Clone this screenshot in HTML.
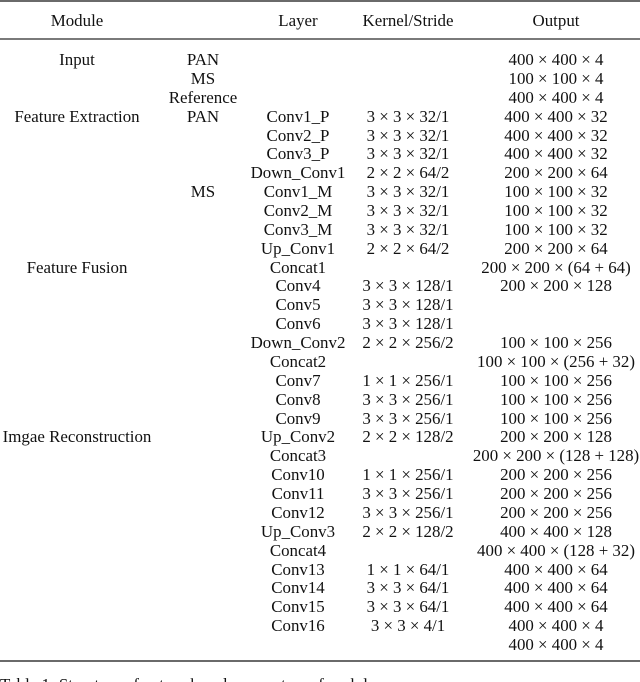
<!DOCTYPE html>
<html><head><meta charset="utf-8">
<style>
html,body{margin:0;padding:0;background:#fff;width:640px;height:682px;overflow:hidden;}
body{position:relative;font-family:"Liberation Serif",serif;font-size:16.9px;color:#111;}
.r{position:absolute;left:0;width:640px;height:19px;line-height:19px;}
.c{position:absolute;top:0;width:200px;text-align:center;white-space:nowrap;}
.c1{left:-23px}.c2{left:103px}.c3{left:198px}.c4{left:308px}.c5{left:456px}
.x{padding:0 4.2px;}
.rule{position:absolute;left:0;width:640px;background:#6a6a6a;}
</style></head><body>
<div class="rule" style="top:0px;height:2px"></div>
<div class="rule" style="top:38px;height:2px;background:#7a7a7a"></div>
<div class="rule" style="top:660px;height:2px"></div>

<div class="r" style="top:11px"><span class="c c1">Module</span><span class="c c3">Layer</span><span class="c c4">Kernel/Stride</span><span class="c c5">Output</span></div>

<div class="r" style="top:50.0px"><span class="c c1">Input</span><span class="c c2">PAN</span><span class="c c5">400<span class="x">×</span>400<span class="x">×</span>4</span></div>
<div class="r" style="top:68.9px"><span class="c c2">MS</span><span class="c c5">100<span class="x">×</span>100<span class="x">×</span>4</span></div>
<div class="r" style="top:87.7px"><span class="c c2">Reference</span><span class="c c5">400<span class="x">×</span>400<span class="x">×</span>4</span></div>
<div class="r" style="top:106.6px"><span class="c c1">Feature Extraction</span><span class="c c2">PAN</span><span class="c c3">Conv1_P</span><span class="c c4">3<span class="x">×</span>3<span class="x">×</span>32/1</span><span class="c c5">400<span class="x">×</span>400<span class="x">×</span>32</span></div>
<div class="r" style="top:125.5px"><span class="c c3">Conv2_P</span><span class="c c4">3<span class="x">×</span>3<span class="x">×</span>32/1</span><span class="c c5">400<span class="x">×</span>400<span class="x">×</span>32</span></div>
<div class="r" style="top:144.4px"><span class="c c3">Conv3_P</span><span class="c c4">3<span class="x">×</span>3<span class="x">×</span>32/1</span><span class="c c5">400<span class="x">×</span>400<span class="x">×</span>32</span></div>
<div class="r" style="top:163.2px"><span class="c c3">Down_Conv1</span><span class="c c4">2<span class="x">×</span>2<span class="x">×</span>64/2</span><span class="c c5">200<span class="x">×</span>200<span class="x">×</span>64</span></div>
<div class="r" style="top:182.1px"><span class="c c2">MS</span><span class="c c3">Conv1_M</span><span class="c c4">3<span class="x">×</span>3<span class="x">×</span>32/1</span><span class="c c5">100<span class="x">×</span>100<span class="x">×</span>32</span></div>
<div class="r" style="top:201.0px"><span class="c c3">Conv2_M</span><span class="c c4">3<span class="x">×</span>3<span class="x">×</span>32/1</span><span class="c c5">100<span class="x">×</span>100<span class="x">×</span>32</span></div>
<div class="r" style="top:219.8px"><span class="c c3">Conv3_M</span><span class="c c4">3<span class="x">×</span>3<span class="x">×</span>32/1</span><span class="c c5">100<span class="x">×</span>100<span class="x">×</span>32</span></div>
<div class="r" style="top:238.7px"><span class="c c3">Up_Conv1</span><span class="c c4">2<span class="x">×</span>2<span class="x">×</span>64/2</span><span class="c c5">200<span class="x">×</span>200<span class="x">×</span>64</span></div>
<div class="r" style="top:257.6px"><span class="c c1">Feature Fusion</span><span class="c c3">Concat1</span><span class="c c5">200<span class="x">×</span>200<span class="x">×</span>(64<span class="x">+</span>64)</span></div>
<div class="r" style="top:276.4px"><span class="c c3">Conv4</span><span class="c c4">3<span class="x">×</span>3<span class="x">×</span>128/1</span><span class="c c5">200<span class="x">×</span>200<span class="x">×</span>128</span></div>
<div class="r" style="top:295.3px"><span class="c c3">Conv5</span><span class="c c4">3<span class="x">×</span>3<span class="x">×</span>128/1</span></div>
<div class="r" style="top:314.2px"><span class="c c3">Conv6</span><span class="c c4">3<span class="x">×</span>3<span class="x">×</span>128/1</span></div>
<div class="r" style="top:333.1px"><span class="c c3">Down_Conv2</span><span class="c c4">2<span class="x">×</span>2<span class="x">×</span>256/2</span><span class="c c5">100<span class="x">×</span>100<span class="x">×</span>256</span></div>
<div class="r" style="top:351.9px"><span class="c c3">Concat2</span><span class="c c5">100<span class="x">×</span>100<span class="x">×</span>(256<span class="x">+</span>32)</span></div>
<div class="r" style="top:370.8px"><span class="c c3">Conv7</span><span class="c c4">1<span class="x">×</span>1<span class="x">×</span>256/1</span><span class="c c5">100<span class="x">×</span>100<span class="x">×</span>256</span></div>
<div class="r" style="top:389.7px"><span class="c c3">Conv8</span><span class="c c4">3<span class="x">×</span>3<span class="x">×</span>256/1</span><span class="c c5">100<span class="x">×</span>100<span class="x">×</span>256</span></div>
<div class="r" style="top:408.5px"><span class="c c3">Conv9</span><span class="c c4">3<span class="x">×</span>3<span class="x">×</span>256/1</span><span class="c c5">100<span class="x">×</span>100<span class="x">×</span>256</span></div>
<div class="r" style="top:427.4px"><span class="c c1">Imgae Reconstruction</span><span class="c c3">Up_Conv2</span><span class="c c4">2<span class="x">×</span>2<span class="x">×</span>128/2</span><span class="c c5">200<span class="x">×</span>200<span class="x">×</span>128</span></div>
<div class="r" style="top:446.3px"><span class="c c3">Concat3</span><span class="c c5">200<span class="x">×</span>200<span class="x">×</span>(128<span class="x">+</span>128)</span></div>
<div class="r" style="top:465.1px"><span class="c c3">Conv10</span><span class="c c4">1<span class="x">×</span>1<span class="x">×</span>256/1</span><span class="c c5">200<span class="x">×</span>200<span class="x">×</span>256</span></div>
<div class="r" style="top:484.0px"><span class="c c3">Conv11</span><span class="c c4">3<span class="x">×</span>3<span class="x">×</span>256/1</span><span class="c c5">200<span class="x">×</span>200<span class="x">×</span>256</span></div>
<div class="r" style="top:502.9px"><span class="c c3">Conv12</span><span class="c c4">3<span class="x">×</span>3<span class="x">×</span>256/1</span><span class="c c5">200<span class="x">×</span>200<span class="x">×</span>256</span></div>
<div class="r" style="top:521.8px"><span class="c c3">Up_Conv3</span><span class="c c4">2<span class="x">×</span>2<span class="x">×</span>128/2</span><span class="c c5">400<span class="x">×</span>400<span class="x">×</span>128</span></div>
<div class="r" style="top:540.6px"><span class="c c3">Concat4</span><span class="c c5">400<span class="x">×</span>400<span class="x">×</span>(128<span class="x">+</span>32)</span></div>
<div class="r" style="top:559.5px"><span class="c c3">Conv13</span><span class="c c4">1<span class="x">×</span>1<span class="x">×</span>64/1</span><span class="c c5">400<span class="x">×</span>400<span class="x">×</span>64</span></div>
<div class="r" style="top:578.4px"><span class="c c3">Conv14</span><span class="c c4">3<span class="x">×</span>3<span class="x">×</span>64/1</span><span class="c c5">400<span class="x">×</span>400<span class="x">×</span>64</span></div>
<div class="r" style="top:597.2px"><span class="c c3">Conv15</span><span class="c c4">3<span class="x">×</span>3<span class="x">×</span>64/1</span><span class="c c5">400<span class="x">×</span>400<span class="x">×</span>64</span></div>
<div class="r" style="top:616.1px"><span class="c c3">Conv16</span><span class="c c4">3<span class="x">×</span>3<span class="x">×</span>4/1</span><span class="c c5">400<span class="x">×</span>400<span class="x">×</span>4</span></div>
<div class="r" style="top:635.0px"><span class="c c5">400<span class="x">×</span>400<span class="x">×</span>4</span></div>

<div style="position:absolute;left:0;top:676px;height:6px;width:640px;overflow:hidden;">
<div style="white-space:nowrap;line-height:19px;margin-top:-1px;">Table 1: Structure of network and parameters of each layer.</div>
</div>
</body></html>
